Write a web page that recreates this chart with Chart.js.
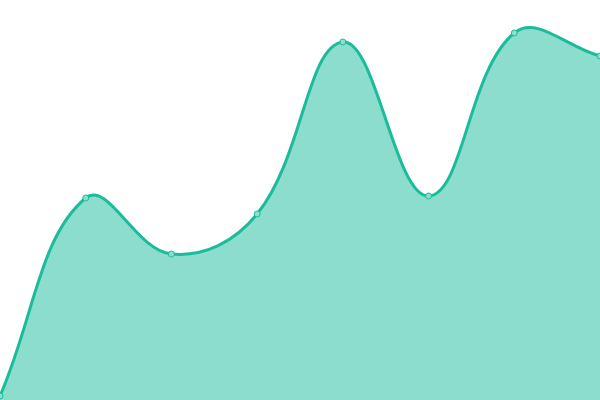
<!DOCTYPE html>
<html>
<head>
<meta charset="utf-8">
<script src="https://cdn.jsdelivr.net/npm/chart.js@4/dist/chart.umd.min.js"></script>
<style>
  html, body { margin: 0; padding: 0; background: #fff; }
  #wrap { width: 600px; height: 400px; }
</style>
</head>
<body>
<div id="wrap"><canvas id="grafico"></canvas></div>
<script>
const labels = ['1', '2', '3', '4', '5', '6', '7', '8'];
const valores = [1, 50.5, 36.5, 46.5, 89.5, 51, 91.75, 86];
const yMin = 0;
const yMax = 100;

const ctx = document.getElementById('grafico').getContext('2d');
new Chart(ctx, {
  type: 'line',
  data: {
    labels: labels,
    datasets: [{
      data: valores,
      fill: 'origin',
      borderColor: 'rgb(26, 188, 156)',
      backgroundColor: 'rgba(26, 188, 156, 0.5)',
      borderWidth: 3,
      tension: 0.4,
      pointRadius: 3,
      pointBorderWidth: 1,
      pointBorderColor: 'rgb(26, 188, 156)',
      pointBackgroundColor: 'rgb(140, 222, 206)'
    }]
  },
  options: {
    responsive: true,
    maintainAspectRatio: false,
    animation: false,
    layout: { padding: 0, autoPadding: false },
    plugins: {
      legend: { display: false },
      tooltip: { enabled: false }
    },
    scales: {
      x: { display: false },
      y: { display: false, min: yMin, max: yMax }
    }
  }
});
</script>
</body>
</html>
